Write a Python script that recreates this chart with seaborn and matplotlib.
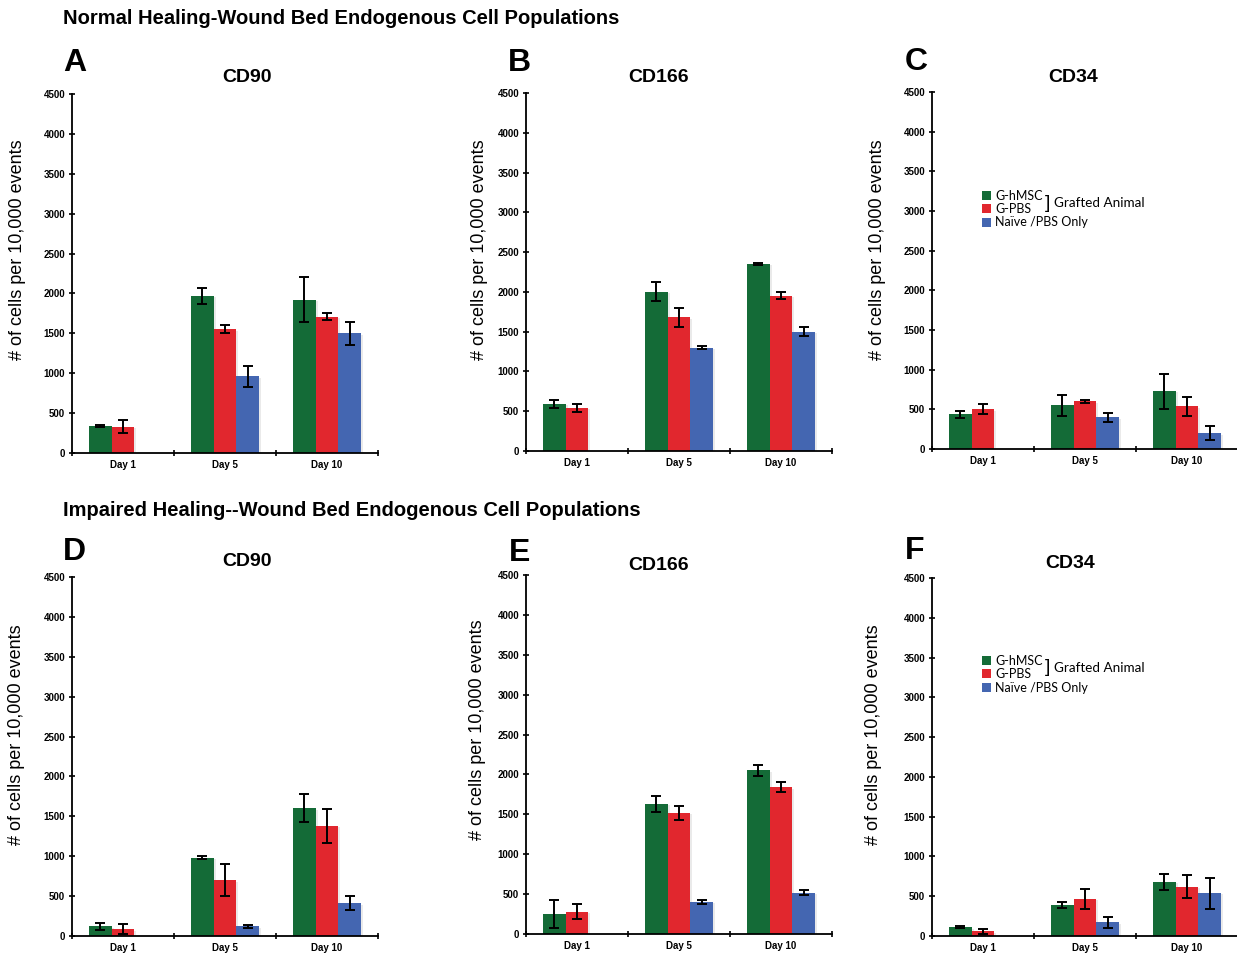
import numpy as np
import pandas as pd
import matplotlib
matplotlib.use("Agg")
import matplotlib.pyplot as plt
import matplotlib.patheffects as pe
from matplotlib.patches import Patch
import seaborn as sns

# ---- Data ----
DAYS = ["Day 1", "Day 5", "Day 10"]
GROUPS = ["G-hMSC", "G-PBS", "Naïve /PBS Only"]
COLORS = ["#146b37", "#e1272e", "#4466b1"]
nan = np.nan

# rows = groups (G-hMSC, G-PBS, Naive/PBS), columns = days
A_CD90 = [[340, 1970, 1920], [330, 1550, 1710], [nan, 960, 1500]]
A_CD90_ERR = [[10, 100, 280], [80, 50, 40], [nan, 130, 140]]
B_CD166 = [[590, 2000, 2350], [545, 1680, 1950], [nan, 1300, 1500]]
B_CD166_ERR = [[50, 120, 15], [50, 120, 45], [nan, 20, 55]]
C_CD34 = [[440, 550, 730], [500, 600, 540], [nan, 400, 200]]
C_CD34_ERR = [[45, 130, 220], [65, 20, 120], [nan, 55, 85]]
D_CD90 = [[120, 980, 1600], [85, 700, 1380], [nan, 120, 410]]
D_CD90_ERR = [[45, 20, 175], [60, 200, 210], [nan, 20, 90]]
E_CD166 = [[250, 1630, 2050], [280, 1520, 1840], [nan, 400, 520]]
E_CD166_ERR = [[170, 100, 70], [95, 85, 60], [nan, 20, 30]]
F_CD34 = [[110, 390, 680], [60, 465, 620], [nan, 170, 540]]
F_CD34_ERR = [[15, 35, 100], [30, 125, 145], [nan, 75, 195]]

YLABEL = "# of cells per 10,000 events"

W, H = 1237, 956


def fx(x):
    return x / W


def fy(y):
    return 1 - y / H


# ---- Layout (pixel positions of each panel) ----
PANELS = [
    dict(letter="A", title="CD90", means=A_CD90, errs=A_CD90_ERR,
         box=(72, 94, 378, 453), letter_xy=(63, 63), title_xy=(247, 77), ylab_xy=(18, 250), legend=None),
    dict(letter="B", title="CD166", means=B_CD166, errs=B_CD166_ERR,
         box=(526, 93, 832, 451), letter_xy=(508, 63), title_xy=(659, 77), ylab_xy=(480, 250), legend=None),
    dict(letter="C", title="CD34", means=C_CD34, errs=C_CD34_ERR,
         box=(932, 92, 1238, 449), letter_xy=(905, 62), title_xy=(1073, 77), ylab_xy=(877, 250),
         legend=(982, 190)),
    dict(letter="D", title="CD90", means=D_CD90, errs=D_CD90_ERR,
         box=(72, 577, 378, 936), letter_xy=(63, 552), title_xy=(247, 562), ylab_xy=(17, 735), legend=None),
    dict(letter="E", title="CD166", means=E_CD166, errs=E_CD166_ERR,
         box=(526, 575, 832, 934), letter_xy=(509, 553), title_xy=(659, 566), ylab_xy=(478, 730), legend=None),
    dict(letter="F", title="CD34", means=F_CD34, errs=F_CD34_ERR,
         box=(932, 578, 1238, 936), letter_xy=(905, 551), title_xy=(1070, 563), ylab_xy=(873, 735),
         legend=(982, 655)),
]


def draw_panel(fig, p):
    left, top, right, bottom = p["box"]
    ax = fig.add_axes([fx(left), fy(bottom), (right - left) / W, (bottom - top) / H])

    rows = []
    for g, vals in zip(GROUPS, p["means"]):
        for d, v in zip(DAYS, vals):
            rows.append({"Day": d, "Group": g, "Cells": v})
    df = pd.DataFrame(rows)

    sns.barplot(data=df, x="Day", y="Cells", hue="Group", order=DAYS, hue_order=GROUPS,
                palette=COLORS, width=0.67, gap=0, errorbar=None, saturation=1,
                linewidth=0, legend=False, ax=ax)

    # soft drop shadow like the original bars
    shadow = [pe.SimplePatchShadow(offset=(1.5, -1), shadow_rgbFace="0.6", alpha=0.2), pe.Normal()]
    bar_groups = list(ax.containers)
    for gi, cont in enumerate(bar_groups):
        for bar in cont:
            bar.set_path_effects(shadow)
            xc = bar.get_x() + bar.get_width() / 2
            di = int(round(xc))
            e = p["errs"][gi][di]
            if np.isnan(e):
                continue
            ax.errorbar(xc, bar.get_height(), yerr=e, fmt="none", ecolor="black",
                        elinewidth=1.4, capsize=3.5, capthick=1.4, zorder=5)

    ax.set_ylim(0, 4500)
    ax.set_xlim(-0.5, 2.5)
    ax.set_yticks(range(0, 4501, 500))
    ax.set_xticks([-0.5, 0.5, 1.5, 2.5], minor=True)
    ax.tick_params(axis="x", which="major", length=0, pad=5, labelsize=7)
    ax.tick_params(axis="x", which="minor", length=4, width=1.2, direction="inout")
    ax.tick_params(axis="y", length=4, width=1.2, direction="inout", pad=3, labelsize=7)
    for lab in ax.get_xticklabels() + ax.get_yticklabels():
        lab.set_fontweight("bold")
    ax.set_xlabel("")
    ax.set_ylabel("")
    sns.despine(ax=ax)
    for s in ("left", "bottom"):
        ax.spines[s].set_linewidth(1.3)
        ax.spines[s].set_color("black")

    # panel letter, title, y label
    lx, ly = p["letter_xy"]
    fig.text(fx(lx), fy(ly), p["letter"], fontsize=23, fontweight="bold", ha="left", va="center")
    tx, ty = p["title_xy"]
    fig.text(fx(tx), fy(ty), p["title"], fontsize=14, fontweight="bold", ha="center", va="center")
    yx, yy = p["ylab_xy"]
    fig.text(fx(yx), fy(yy), YLABEL, fontsize=13, rotation=90, ha="center", va="center")

    if p["legend"] is not None:
        gx, gy = p["legend"]
        handles = [Patch(facecolor=c, edgecolor="none") for c in COLORS]
        fig.legend(handles, GROUPS, loc="upper left", bbox_to_anchor=(fx(gx), fy(gy)),
                   frameon=False, handlelength=0.75, handleheight=0.75,
                   handletextpad=0.3, labelspacing=0.1, borderpad=0, borderaxespad=0,
                   prop={"family": ["Lato", "DejaVu Sans"], "size": 9})
        fig.text(fx(gx + 66), fy(gy + 13), "]", fontsize=14, ha="center", va="center",
                 family=["Liberation Sans", "DejaVu Sans"])
        fig.text(fx(gx + 72), fy(gy + 13), "Grafted Animal", fontsize=9.7, ha="left", va="center",
                 family=["Lato", "DejaVu Sans"])
    return ax


def main():
    sns.set_style("ticks")
    plt.rcParams["font.family"] = ["Liberation Sans", "DejaVu Sans"]
    for key in ("text.color", "axes.labelcolor", "xtick.color", "ytick.color", "axes.edgecolor"):
        plt.rcParams[key] = "black"

    fig = plt.figure(figsize=(W / 100, H / 100), dpi=100)
    fig.text(fx(63), fy(19), "Normal Healing-Wound Bed Endogenous Cell Populations",
             fontsize=14.5, fontweight="bold", ha="left", va="center")
    fig.text(fx(63), fy(510), "Impaired Healing--Wound Bed Endogenous Cell Populations",
             fontsize=14.5, fontweight="bold", ha="left", va="center")

    for p in PANELS:
        draw_panel(fig, p)

    fig.savefig("out.png", dpi=100)
    plt.close(fig)


if __name__ == "__main__":
    main()
